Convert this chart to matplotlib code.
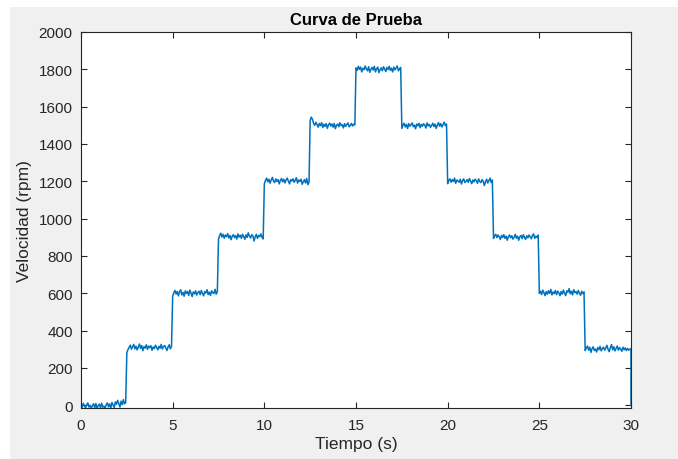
import numpy as np
import matplotlib
matplotlib.use("Agg")
import matplotlib.pyplot as plt
from matplotlib.patches import Rectangle

plt.rcParams['font.family'] = ['Liberation Sans', 'DejaVu Sans']

# Step levels (rpm) for each 2.5 s segment
levels = [0, 300, 600, 900, 1200, 1500, 1800, 1500, 1200, 900, 600, 300]
seg_len = 2.5
final_value = 0

noise = [
    [6, -12, 10, -3, -16, 4, 12, -10, 0, -18, -2, 8, -14, 9, -20, -1, 6, -15, 11, -11, -5, -17, 3, 12, -9, 7, -16, 15, 1, -13, 18, 5, 26, 9, -10, 22, 3, 30, 7, 14],
    [-18, -2, 10, 22, 0, 13, 26, 2, 16, -4, 11, 28, 4, 20, -8, 14, 6, 24, -1, 17, 8, 19, -6, 12, 3, 22, 10, -3, 16, 5, 26, 1, 14, 20, 7, -7, 12, 24, 2, 16],
    [-16, 3, 15, -5, 10, -14, 7, 19, -9, 5, -16, 13, -1, 9, -12, 17, 1, -18, 7, -3, 13, -10, 4, 11, -8, 15, -1, -14, 9, 1, 19, -7, 6, -12, 13, 3, -2, 21, -5, 9],
    [-10, 9, 22, 1, 16, -5, 12, 3, 20, -4, 10, -13, 6, 14, -2, 9, -10, 18, 1, 11, -6, 16, 4, -11, 13, -1, 24, 6, -4, 14, 8, -20, 2, 16, -6, 10, 3, 18, -1, -9],
    [-14, 5, 17, -3, 11, -10, 7, 21, 1, -7, 13, -1, 9, -14, 4, 15, -3, 11, -9, 7, 17, 0, -14, 9, 1, 13, -5, 5, 19, -10, 7, -1, 11, -16, -3, 9, -9, 15, -18, -5],
    [26, 44, 32, 10, 0, 16, 4, -10, 10, -2, 14, -12, 6, -6, 9, -16, 2, 12, -4, 7, -10, 10, -18, 0, 7, -8, 14, -2, 3, -14, 9, -6, 5, 13, -8, 0, 10, -4, 6, 2],
    [8, -6, 16, 0, 12, -14, 6, -2, 18, 2, -8, 14, -16, 0, 10, -4, 16, -14, 3, 12, -18, -2, 8, -8, 14, 2, -12, 10, -1, 16, -6, 6, -14, 12, -3, 8, 18, -8, 2, 10],
    [-16, 1, 11, -9, 5, -17, 9, -5, 3, 13, -7, 1, -19, 7, -3, 11, -13, 5, -5, 9, 1, -15, 13, -3, 5, -11, -1, 11, -7, 7, -17, 1, 15, -5, 9, -9, 4, 17, -2, 7],
    [-13, 5, 13, -5, 9, -1, 17, -11, 7, 1, -5, 11, -15, 4, 13, -7, 0, 9, -6, 15, 1, -13, 7, -3, 11, 3, -11, 13, -1, -7, 9, 1, -23, -3, 11, -9, 4, 17, -7, 7],
    [-6, 8, 16, -2, 12, 2, -12, 10, -1, 14, -6, 6, -16, 3, 12, -3, 8, -10, 0, 16, -5, 6, -16, 3, 10, -8, 14, 0, -12, 8, -3, 12, 2, -8, 10, 18, -6, 6, -1, 12],
    [-1, 11, -7, 17, 3, -13, 9, -5, 13, 0, 21, -9, 7, -2, 15, -7, 11, 2, -13, 9, -5, 17, 1, -13, 13, 5, 25, -3, 11, -9, 19, 3, 9, -5, 15, 0, -11, 11, -2, 7],
    [-7, 7, 17, -5, 11, -17, 3, 13, -7, 1, -15, 9, -3, 15, -9, 4, 11, -5, 7, 21, -1, -13, 9, 25, -3, 13, -9, 4, 17, -5, 9, 0, -11, 11, -3, 7, -7, 4, -5, 1],
]

# Build the time series
t_parts, y_parts = [], []
for i, (lev, nz) in enumerate(zip(levels, noise)):
    n = len(nz)
    t_parts.append(np.linspace(i * seg_len, (i + 1) * seg_len, n + 1)[:-1])
    y_parts.append(lev + np.asarray(nz, dtype=float))
t_parts.append([len(levels) * seg_len, len(levels) * seg_len])
y_parts.append([levels[-1] + noise[-1][-1], final_value])
t = np.concatenate(t_parts)
y = np.concatenate(y_parts)

W, H = 678, 460
fig = plt.figure(figsize=(W / 100, H / 100), dpi=100, facecolor='white')
fig.patches.append(Rectangle((10 / W, 0), 1, (H - 8) / H, transform=fig.transFigure,
                             facecolor='#f0f0f0', edgecolor='none', zorder=-10))

ax = fig.add_axes([81 / W, 1 - 409 / H, (631 - 81) / W, (409 - 33) / H])
ax.plot(t, y, color='#0072BD', linewidth=1.1)

ax.set_xlim(0, 30)
ax.set_ylim(-15, 2000)
ax.set_xticks([0, 5, 10, 15, 20, 25, 30])
ax.set_yticks(np.arange(0, 2001, 200))

axcol = '#262626'
for s in ax.spines.values():
    s.set_color(axcol)
    s.set_linewidth(0.8)
ax.tick_params(direction='in', length=4, width=0.8, colors=axcol, labelsize=11,
               top=True, right=True, pad=6)
ax.tick_params(axis='x', pad=7)

ax.set_title('Curva de Prueba', fontsize=12, fontweight='bold', color='#000000', pad=6)
ax.set_xlabel('Tiempo (s)', fontsize=12.5, color=axcol, labelpad=3)
ax.set_ylabel('Velocidad (rpm)', fontsize=12.5, color=axcol, labelpad=5)

fig.savefig('out.png', dpi=100, facecolor=fig.get_facecolor())
